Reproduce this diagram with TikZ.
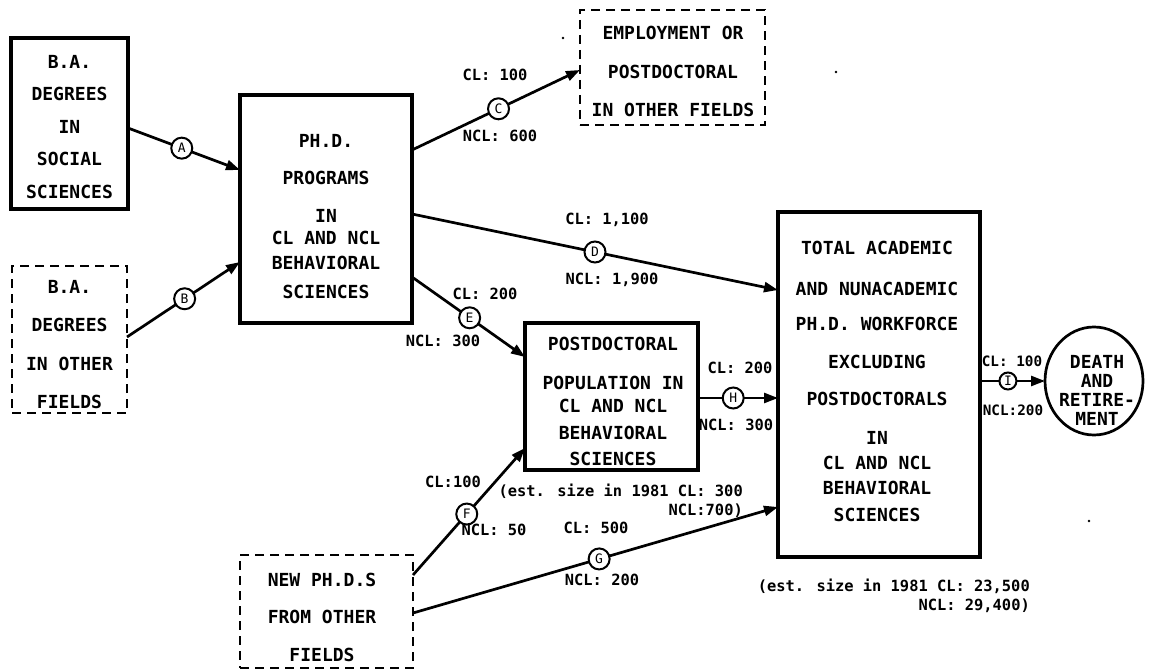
\documentclass[tikz,border=0pt]{standalone}
\usepackage{fontspec}
\setmainfont{DejaVu Sans Mono}
\usetikzlibrary{arrows.meta,shapes.geometric}
\begin{document}
\begin{tikzpicture}[x=1pt,y=-1pt,
  sbox/.style={draw, line width=3.3pt, inner sep=0pt, outer sep=0pt},
  dbox/.style={draw, line width=2.3pt, dash pattern=on 9pt off 6pt, inner sep=0pt, outer sep=0pt},
  btxt/.style={font=\bfseries\fontsize{18}{25}\selectfont, align=center, inner sep=0pt},
  lbl/.style={font=\bfseries\fontsize{15.4}{19}\selectfont, inner sep=0pt},
  slbl/.style={font=\bfseries\fontsize{14.3}{18}\selectfont, inner sep=0pt},
  flow/.style={line width=2.7pt, -{Triangle[length=14pt,width=10pt]}},
  mk/.style={circle, draw, line width=2pt, fill=white, minimum size=21pt, inner sep=0pt, font=\fontsize{13}{13}\selectfont}]
\useasboundingbox (0,0) rectangle (1158,671);

% boxes
\node[sbox, minimum width=117pt, minimum height=171pt] (ba1) at (69.5,123.5) {};
\node[dbox, minimum width=115pt, minimum height=147pt] (ba2) at (69.5,339.5) {};
\node[sbox, minimum width=172pt, minimum height=228pt] (phd) at (326,209) {};
\node[dbox, minimum width=185pt, minimum height=115pt] (emp) at (672.5,67.5) {};
\node[sbox, minimum width=173pt, minimum height=147pt] (pd) at (611.5,396.5) {};
\node[sbox, minimum width=202pt, minimum height=345pt] (tot) at (879,384.5) {};
\node[dbox, minimum width=173pt, minimum height=113pt] (new) at (326.5,611.5) {};
\node[ellipse, draw, line width=2.7pt, minimum width=98pt, minimum height=108pt, inner sep=0pt, outer sep=0pt] (death) at (1094,381) {};

% box texts
\node[btxt] (ba1t) at (69.5,127) {B.A.\\[7.5pt]DEGREES\\[7.5pt]IN\\[7.5pt]SOCIAL\\[7.5pt]SCIENCES};
\node[btxt] (ba2t) at (69.5,344.5) {B.A.\\[13.5pt]DEGREES\\[13.5pt]IN OTHER\\[13.5pt]FIELDS};
\node[btxt] (phdt) at (326,216.5) {PH.D.\\[12pt]PROGRAMS\\[13pt]IN\\[-3pt]CL AND NCL\\BEHAVIORAL\\[4pt]SCIENCES};
\node[btxt] (empt) at (673,71.5) {EMPLOYMENT OR\\[13.5pt]POSTDOCTORAL\\[13.5pt]IN OTHER FIELDS};
\node[btxt] (pdt) at (613,401.5) {POSTDOCTORAL\\[14pt]POPULATION IN\\[-2pt]CL AND NCL\\[2pt]BEHAVIORAL\\[1pt]SCIENCES};
\node[btxt] (tott) at (877,381.5) {TOTAL ACADEMIC\\[16pt]AND NUNACADEMIC\\[10pt]PH.D. WORKFORCE\\[13pt]EXCLUDING\\[12pt]POSTDOCTORALS\\[14pt]IN\\CL AND NCL\\BEHAVIORAL\\[2pt]SCIENCES};
\node[btxt] (newt) at (322,617.5) {NEW PH.D.S\\[12pt]FROM OTHER\\[13pt]FIELDS};
\node[btxt] (deatht) at (1097,390.5) {DEATH\\[-6pt]AND\\[-6pt]RETIRE-\\[-6pt]MENT};

% flows
\draw[flow] ([yshift=-4.5pt]ba1.east) -- node[mk,pos=0.48] (mA) {A} ([yshift=39pt]phd.west);
\draw[flow] ([yshift=2.5pt]ba2.east) -- node[mk,pos=0.51] (mB) {B} ([yshift=-53pt]phd.west);
\draw[flow] ([yshift=59pt]phd.east) -- node[mk,pos=0.515] (mC) {C} ([yshift=-2.5pt]emp.west);
\draw[flow] ([yshift=-5pt]phd.east) -- node[mk,pos=0.5] (mD) {D} ([yshift=94.5pt]tot.west);
\draw[flow] ([yshift=-68pt]phd.east) -- node[mk,pos=0.51] (mE) {E} ([yshift=39.5pt]pd.west);
\draw[flow] ([yshift=36.5pt]new.east) -- node[mk,pos=0.48] (mF) {F} ([yshift=-51.5pt]pd.west);
\draw[flow] ([yshift=-1.5pt]new.east) -- node[mk,pos=0.51] (mG) {G} ([yshift=-122.5pt]tot.west);
\draw[flow] ([yshift=-1.5pt]pd.east) -- node[mk,pos=0.44] (mH) {H} ([yshift=-13.5pt]tot.west);
\draw[flow] ([yshift=3.5pt]tot.east) -- node[mk,pos=0.43,minimum size=17pt] (mI) {I} (death.west);

% flow labels
\node[lbl] (cCL) at (495,75) {CL: 100};
\node[lbl] (cNCL) at (500,136) {NCL: 600};
\node[lbl] (dCL) at (607,220) {CL: 1,100};
\node[lbl] (dNCL) at (612,280) {NCL: 1,900};
\node[lbl] (eCL) at (485,294) {CL: 200};
\node[lbl] (eNCL) at (443,341) {NCL: 300};
\node[lbl] (fCL) at (453,482) {CL:100};
\node[lbl] (fNCL) at (494,530) {NCL: 50};
\node[lbl] (gCL) at (596,528) {CL: 500};
\node[lbl] (gNCL) at (602,580) {NCL: 200};
\node[lbl] (hCL) at (740,368) {CL: 200};
\node[lbl] (hNCL) at (736,425) {NCL: 300};
\node[slbl] (iCL) at (1012,361) {CL: 100};
\node[slbl] (iNCL) at (1013,410) {NCL:200};

% estimates
\node[lbl, align=right, anchor=east] (pdest) at (743,501) {(est. size in 1981 CL: 300\\NCL:700)};
\node[lbl, align=right, anchor=east] (totest) at (1030,596) {(est. size in 1981 CL: 23,500\\NCL: 29,400)};

% specks
\fill (563,38) circle[radius=1.3pt];
\fill (836,72) circle[radius=1.3pt];
\fill (1089,521) circle[radius=1.3pt];
\end{tikzpicture}
\end{document}
